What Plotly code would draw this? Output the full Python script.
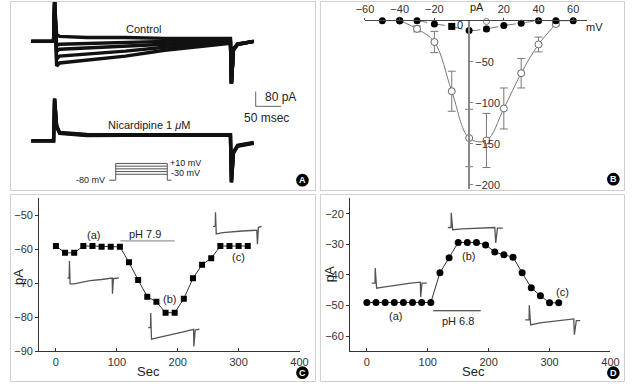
import plotly.graph_objects as go

W, H = 635, 389
FONT = "Liberation Sans, Arial, sans-serif"


def px(x):
    return x / W


def py(y):
    return 1 - y / H


# ---------------- Panel A: current traces (ms, pA) ----------------
a_time = [0, 44, 46, 50, 56, 110, 186, 264, 340, 394, 396, 400, 408, 427, 440]
control_1 = [0, 0, 213, 37, 27, 21, 21, 16, 16, 16, -229, -43, -16, -5, 0]
control_2 = [0, 0, 213, -21, -16, -11, -5, 0, 5, 11, -229, -40, -14, -3, 0]
control_3 = [0, 0, 213, -53, -43, -37, -27, -16, -5, 0, -225, -43, -16, -5, 0]
control_4 = [0, 0, 213, -96, -80, -69, -53, -32, -16, -5, -229, -45, -18, -5, 0]
control_5 = [0, 0, 213, -133, -117, -101, -80, -48, -27, -11, -229, -48, -16, -5, 0]
nicard_1 = [0, 0, 229, 80, 43, 32, 32, 32, 32, 32, -224, -64, -27, -16, -11]
nicard_2 = [0, 0, 229, 75, 40, 29, 30, 30, 29, 30, -220, -60, -24, -14, -9]
nicard_3 = [0, 0, 225, 84, 46, 35, 34, 35, 34, 34, -226, -66, -30, -18, -13]
scale_pa = 80
scale_ms = 50
step_mv = [10, 0, -10, -20, -30]
hold_mv = -80

# ---------------- Panel B: I-V relation ----------------
iv_mv_ctrl = [-40, -30, -20, -10, 0, 10, 20, 30, 40, 50]
iv_pa_ctrl = [0, -10, -26, -86, -143, -146, -107, -64, -29, -4]
iv_err_ctrl = [0, 3.6, 13, 24.4, 35, 33, 25, 18, 9, 2.4]
iv_mv_nic = [-50, -40, -30, -20, -10, 0, 10, 20, 30, 40, 50, 60]
iv_pa_nic = [0, 0, 0, -4, -7, -12, -10, -6, -3, 0, 0, 0]
iv_err_nic = [0, 0, 0, 0, 0, 0, 3, 0, 0, 0, 0, 0]
iv_mv_extra = [10]
iv_pa_extra = [-1]

# ---------------- Panel C: pH 7.9 time course ----------------
c_sec = [0, 15, 30, 45, 60, 75, 90, 105, 120, 135, 150, 165, 180, 195, 210, 225,
         240, 255, 270, 285, 300, 315]
c_pa = [-59, -61, -61, -59, -59, -59.2, -59.2, -59.2, -63.8, -69, -73.9, -75.4,
        -78.6, -78.6, -74.5, -68.5, -64.5, -62.6, -59, -59, -59, -59]
c_ph_on, c_ph_off = 106, 195

# ---------------- Panel D: pH 6.8 time course ----------------
d_sec = c_sec
d_pa = [-49, -49, -49, -49, -49, -49, -49, -49, -39.3, -34.4, -29.4, -29.4, -29.4,
        -30.2, -32.5, -33.4, -34.2, -39.3, -44.2, -46.8, -49.1, -49.1]
d_ph_on, d_ph_off = 109, 187

# inset trace shapes (relative units)
ins_ca = ([0, 1.7, 2.0, 2.7, 6.7, 15, 23.3, 35, 46, 46.3, 47.3, 52.7],
          [0, 0, -17.3, 6, 6, 4.5, 2.7, 1.5, 0, 16, 0.7, 0])
ins_cb = ([0, 2.4, 2.6, 3.4, 10, 25, 35, 46.7, 47, 48.4, 52.7],
          [0, 0, -15, 11.6, 10, 7, 4.5, 1.6, 19, 2.3, 1.6])
ins_cc = ([0, 2.3, 2.5, 3.3, 10, 16.7, 30, 45, 45.7, 46.7, 50],
          [0, 0, -14.3, 7.7, 6.5, 5.7, 4.8, 4, 18.3, 1, 0])
ins_da = ([0, 3.4, 3.6, 5, 12, 25, 40, 50, 50.4, 51.7, 56.7],
          [0, 0, -15.4, 5, 4, 2, 0, -1, 14, 0, 0])
ins_db = ([0, 3.3, 3.5, 5, 15, 30, 48.3, 49.3, 51, 56.6],
          [0, 0, -15, 2.3, 1.5, 1, 0, 15.7, 0.7, 0.7])
ins_dc = ([0, 4, 4.2, 5.6, 15, 30, 50, 50.6, 52.6, 56.6],
          [0, 0, -15, 5, 3, 1, -1, 15, 0.7, 0.7])

fig = go.Figure()

# ---- Panel A ----
A_XR = [-42.3, 561.5]
A_YR = [-805.3, 218.7]
NIC_OFFSET = -539
for tr in [control_1, control_2, control_3, control_4, control_5]:
    fig.add_trace(go.Scatter(x=a_time, y=tr, mode="lines", xaxis="x", yaxis="y",
                             line=dict(color="#111", width=3.4), hoverinfo="skip"))
for tr in [nicard_1, nicard_2, nicard_3]:
    fig.add_trace(go.Scatter(x=a_time, y=[v + NIC_OFFSET for v in tr], mode="lines",
                             xaxis="x", yaxis="y",
                             line=dict(color="#111", width=3.4), hoverinfo="skip"))
sb_t, sb_i = 444, -272
fig.add_trace(go.Scatter(x=[sb_t, sb_t, sb_t + scale_ms],
                         y=[sb_i, sb_i - scale_pa, sb_i - scale_pa], mode="lines",
                         xaxis="x", yaxis="y", line=dict(color="#666", width=1)))
# voltage protocol schematic
P_HOLD_Y = -752


def proto_y(v):
    return -720 + (v + 30) * 1.4675


t_h0, t_s0, t_s1, t_e = 154, 167, 269, 277
fig.add_trace(go.Scatter(x=[t_h0, t_s0, t_s0], y=[P_HOLD_Y, P_HOLD_Y, proto_y(max(step_mv))],
                         mode="lines", xaxis="x", yaxis="y", line=dict(color="#555", width=1)))
fig.add_trace(go.Scatter(x=[t_s1, t_s1, t_e], y=[proto_y(max(step_mv)), P_HOLD_Y, P_HOLD_Y],
                         mode="lines", xaxis="x", yaxis="y", line=dict(color="#555", width=1)))
for v in step_mv:
    fig.add_trace(go.Scatter(x=[t_s0, t_s1], y=[proto_y(v), proto_y(v)], mode="lines",
                             xaxis="x", yaxis="y", line=dict(color="#555", width=1)))

# ---- Panel B ----
fig.add_trace(go.Scatter(x=iv_mv_ctrl, y=iv_pa_ctrl, mode="lines+markers", xaxis="x2", yaxis="y2",
                         line=dict(color="#777", width=1, shape="spline", smoothing=1.0),
                         marker=dict(symbol="circle", size=7, color="white",
                                     line=dict(color="#666", width=1)),
                         error_y=dict(type="data", array=iv_err_ctrl, color="#777",
                                      thickness=1, width=4),
                         cliponaxis=False))
fig.add_trace(go.Scatter(x=iv_mv_extra, y=iv_pa_extra, mode="markers", xaxis="x2", yaxis="y2",
                         marker=dict(symbol="circle", size=6, color="white",
                                     line=dict(color="#777", width=1)), cliponaxis=False))
nic_symbols = ["square" if v == -10 else "circle" for v in iv_mv_nic]
fig.add_trace(go.Scatter(x=iv_mv_nic, y=iv_pa_nic, mode="lines+markers", xaxis="x2", yaxis="y2",
                         line=dict(color="#777", width=1, dash="dash", shape="spline"),
                         marker=dict(symbol=nic_symbols, size=7, color="black"),
                         error_y=dict(type="data", array=iv_err_nic, color="#777",
                                      thickness=1, width=3),
                         cliponaxis=False))

# ---- Panel C ----
C_KX, C_KY = 0.6268, 155.5 / 45


def inset(shape, x0, y0, kx, ky, xa, ya):
    xs = [x0 + d / kx for d in shape[0]]
    ys = [y0 - d / ky for d in shape[1]]
    return go.Scatter(x=xs, y=ys, mode="lines", xaxis=xa, yaxis=ya,
                      line=dict(color="#555", width=1.3), cliponaxis=False, hoverinfo="skip")


fig.add_trace(inset(ins_ca, 19, -68.4, C_KX, C_KY, "x3", "y3"))
fig.add_trace(inset(ins_cb, 151.5, -83.0, C_KX, C_KY, "x3", "y3"))
fig.add_trace(inset(ins_cc, 258, -53.2, C_KX, C_KY, "x3", "y3"))
fig.add_trace(go.Scatter(x=[c_ph_on, c_ph_off], y=[-57.5, -57.5], mode="lines",
                         xaxis="x3", yaxis="y3", line=dict(color="#999", width=1.3)))
fig.add_trace(go.Scatter(x=c_sec, y=c_pa, mode="lines+markers", xaxis="x3", yaxis="y3",
                         line=dict(color="#333", width=1),
                         marker=dict(symbol="square", size=6, color="black")))

# ---- Panel D ----
D_KX, D_KY = 0.6268, 155.5 / 50
fig.add_trace(inset(ins_da, 8, -42.7, D_KX, D_KY, "x4", "y4"))
fig.add_trace(inset(ins_db, 133, -24.5, D_KX, D_KY, "x4", "y4"))
fig.add_trace(inset(ins_dc, 260, -54.7, D_KX, D_KY, "x4", "y4"))
fig.add_trace(go.Scatter(x=[d_ph_on, d_ph_off], y=[-51.7, -51.7], mode="lines",
                         xaxis="x4", yaxis="y4", line=dict(color="#222", width=1)))
fig.add_trace(go.Scatter(x=d_sec, y=d_pa, mode="lines+markers", xaxis="x4", yaxis="y4",
                         line=dict(color="#333", width=1),
                         marker=dict(symbol="circle", size=7, color="black")))

hidden = dict(visible=False, showgrid=False, zeroline=False)
tick_font = dict(family=FONT, size=11, color="#333")
ts_axis = dict(showgrid=False, zeroline=False, showline=True, linecolor="#333", linewidth=1,
               tickfont=tick_font, ticklen=3, tickcolor="#333")

fig.update_layout(
    width=W, height=H, margin=dict(l=0, r=0, t=0, b=0),
    paper_bgcolor="white", plot_bgcolor="rgba(0,0,0,0)", showlegend=False,
    font=dict(family=FONT, color="#222"),
    xaxis=dict(domain=[px(1), px(315)], range=A_XR, anchor="y", **hidden),
    yaxis=dict(domain=[py(193), py(1)], range=A_YR, anchor="x", **hidden),
    xaxis2=dict(domain=[px(366), px(595)], range=[-60.2, 68], anchor="y2", side="top",
                showline=True, linecolor="#444", linewidth=1, showgrid=False, zeroline=False,
                tickvals=[-60, -40, -20, 20, 40, 60], ticks="outside", ticklen=2,
                tickcolor="#444", tickfont=tick_font),
    yaxis2=dict(domain=[py(192), py(21)], range=[-205.2, 0], anchor="free",
                position=px(473.5), side="right", showline=True, linecolor="#888",
                linewidth=2, showgrid=False, zeroline=False,
                tickvals=[-50, -100, -150, -200], ticks="outside", ticklen=3,
                tickcolor="#888", tickfont=tick_font),
    xaxis3=dict(domain=[px(31), px(299)], range=[-27.6, 400], anchor="y3",
                tickvals=[0, 100, 200, 300, 400], ticks="inside", **ts_axis),
    yaxis3=dict(domain=[py(357), py(201.5)], range=[-90, -45], anchor="x3",
                tickvals=[-50, -60, -70, -80, -90], ticks="outside", **ts_axis),
    xaxis4=dict(domain=[px(351), px(619)], range=[-27.6, 400], anchor="y4",
                tickvals=[0, 100, 200, 300, 400], ticks="inside", **ts_axis),
    yaxis4=dict(domain=[py(357), py(201.5)], range=[-65, -15], anchor="x4",
                tickvals=[-20, -30, -40, -50, -60], ticks="outside", **ts_axis),
)

shapes = []
for (x0, y0, x1, y1) in [(1, 1, 315, 193), (320, 1, 633, 193), (1, 197, 315, 387),
                         (320, 197, 633, 387)]:
    shapes.append(dict(type="rect", xref="paper", yref="paper", x0=px(x0 + 0.5),
                       x1=px(x1 + 0.5), y0=py(y1 + 0.5), y1=py(y0 + 0.5),
                       line=dict(color="#cfcfcf", width=1), fillcolor="rgba(0,0,0,0)"))
badges = [("A", 302, 183), ("B", 622, 182), ("C", 302, 378.5), ("D", 622, 378.5)]
for (_, cx, cy) in badges:
    shapes.append(dict(type="circle", xref="paper", yref="paper", x0=px(cx - 6.5),
                       x1=px(cx + 6.5), y0=py(cy + 6.5), y1=py(cy - 6.5),
                       fillcolor="black", line=dict(color="black", width=0)))
fig.update_layout(shapes=shapes)

ann = []


def add_text(text, x, y, xref, yref, size=11, xanchor="center", color="#222", **kw):
    ann.append(dict(text=text, x=x, y=y, xref=xref, yref=yref, showarrow=False,
                    xanchor=xanchor, yanchor="middle",
                    font=dict(family=FONT, size=size, color=color), **kw))


for (lab, cx, cy) in badges:
    add_text("<b>%s</b>" % lab, px(cx), py(cy), "paper", "paper", size=9, color="white")

# Panel A labels
add_text("Control", 221, 69, "x", "y", size=11)
add_text("Nicardipine 1 <i>μ</i>M", 233, -453, "x", "y", size=11)
add_text("80 pA", 459, -304, "x", "y", size=12, xanchor="left")
add_text("50 msec", 466, -413, "x", "y", size=12)
add_text("%d mV" % hold_mv, 150, P_HOLD_Y, "x", "y", size=9, xanchor="right")
add_text("+%d mV" % max(step_mv), 270, proto_y(max(step_mv)) + 5, "x", "y", size=9, xanchor="left")
add_text("%d mV" % min(step_mv), 273, proto_y(min(step_mv)) + 5, "x", "y", size=9, xanchor="left")

# Panel B labels
add_text("pA", px(482), py(7), "paper", "paper", size=11)
add_text("mV", px(603), py(27), "paper", "paper", size=11)
add_text("0", px(464), py(25), "paper", "paper", size=11)

# Panel C labels
add_text("(a)", 61, -55.7, "x3", "y3", size=11)
add_text("(b)", 187, -74.7, "x3", "y3", size=11)
add_text("(c)", 300, -62.3, "x3", "y3", size=11)
add_text("pH 7.9", 146, -55.6, "x3", "y3", size=11)
add_text("pA", px(10), py(281.7), "paper", "paper", size=13, textangle=-90)
add_text("Sec", px(144), py(377.7), "paper", "paper", size=13)

# Panel D labels
add_text("(a)", 47, -53.3, "x4", "y4", size=11)
add_text("(b)", 167.5, -33.9, "x4", "y4", size=11)
add_text("(c)", 320.6, -45.6, "x4", "y4", size=11)
add_text("pH 6.8", 149, -54.9, "x4", "y4", size=11)
add_text("pA", px(330), py(279), "paper", "paper", size=13, textangle=-90)
add_text("Sec", px(477.7), py(377.7), "paper", "paper", size=13)

fig.update_layout(annotations=ann)

fig.write_html("out.html", config={"displayModeBar": False},
               post_script="document.body.style.margin='0';document.body.style.padding='0';"
                           "document.body.style.overflow='hidden';")
